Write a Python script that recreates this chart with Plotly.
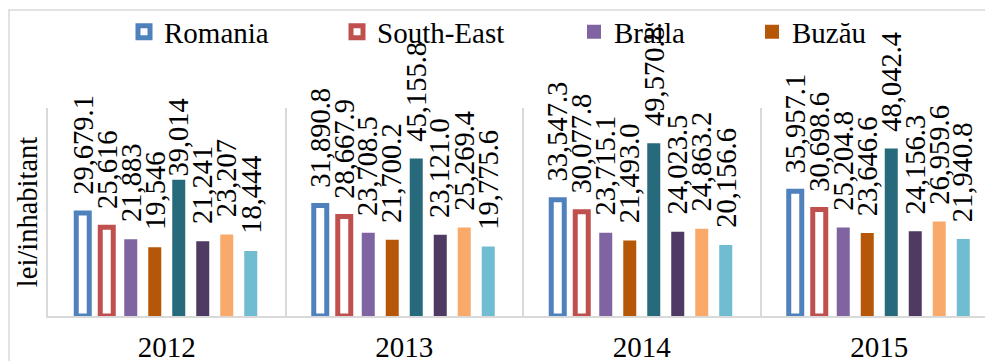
import plotly.graph_objects as go

# Revenue per inhabitant (lei/inhabitant), South-East development region
years = ["2012", "2013", "2014", "2015"]

romania = [29679.1, 31890.8, 33547.3, 35957.1]
south_east = [25616, 28667.9, 30077.8, 30698.6]
braila = [21883, 23708.5, 23715.1, 25204.8]
buzau = [19546, 21700.2, 21493.0, 23646.6]
constanta = [39014, 45155.8, 49570.8, 48042.4]
galati = [21241, 23121.0, 24023.5, 24156.3]
tulcea = [23207, 25269.4, 24863.2, 26959.6]
vrancea = [18444, 19775.6, 20156.6, 21940.8]

# decimals printed in the value labels, per year
romania_decimals = [1, 1, 1, 1]
county_decimals = [0, 1, 1, 1]

FONT = "Liberation Serif"
FS = 28.5
W, H = 985, 361
M_L, M_T, M_B = 48, 108, 45
PLOT_W = W - M_L
CAT_PX = 237.5                       # pixels per year group
X_MAX = -0.5 + PLOT_W / CAT_PX
SLOT = 24 / CAT_PX                   # distance between bars inside a group

series = [
    # name, values, decimals, colour, outlined, legend id
    ("Romania", romania, romania_decimals, "#4F81BD", True, "legend"),
    ("South-East", south_east, county_decimals, "#C0504D", True, "legend2"),
    ("Brăila", braila, county_decimals, "#8064A2", False, "legend3"),
    ("Buzău", buzau, county_decimals, "#B65708", False, "legend4"),
    ("Constanța", constanta, county_decimals, "#276A7C", False, None),
    ("Galați", galati, county_decimals, "#4E3A62", False, None),
    ("Tulcea", tulcea, county_decimals, "#F9AA6B", False, None),
    ("Vrancea", vrancea, county_decimals, "#70BDD1", False, None),
]

# gap (px) between a bar top and the start of its rotated label
LABEL_GAP = 16
label_gap_override = {("Constanța", "2012"): 2}

fig = go.Figure()
annotations = []
n = len(series)
for k, (name, vals, decs, color, outlined, leg) in enumerate(series):
    center = (k - (n - 1) / 2) * SLOT
    if outlined:
        width = 13 / CAT_PX
        marker = dict(color="white", line=dict(color=color, width=5))
    else:
        width = 11 / CAT_PX
        marker = dict(color=color, line=dict(color=color, width=2))
    fig.add_trace(go.Bar(
        x=years, y=vals, name=name, marker=marker,
        width=width, offset=center - width / 2,
        showlegend=leg is not None,
        legend=leg if leg else "legend",
        hoverinfo="skip",
    ))
    for i, (yr, v, d) in enumerate(zip(years, vals, decs)):
        gap = label_gap_override.get((name, yr), LABEL_GAP)
        annotations.append(dict(
            x=i + center, y=v, xref="x", yref="y",
            text=f"{v:,.{d}f}", textangle=-90,
            xanchor="center", yanchor="bottom", yshift=gap,
            showarrow=False, font=dict(family=FONT, size=FS, color="black"),
        ))

def px_to_paper_x(px):
    return (px - M_L) / PLOT_W

def px_to_paper_y(py):
    return (H - M_B - py) / (H - M_T - M_B)

legend_common = dict(
    orientation="h", xanchor="left", yanchor="middle",
    y=px_to_paper_y(32), bgcolor="rgba(0,0,0,0)",
    font=dict(family=FONT, size=29, color="black"),
    itemwidth=30, borderwidth=0,
)
legend_x = {"legend": 124, "legend2": 337, "legend3": 574, "legend4": 752}

layout_legends = {k: dict(legend_common, x=px_to_paper_x(v)) for k, v in legend_x.items()}

fig.update_layout(
    width=W, height=H,
    margin=dict(l=M_L, r=0, t=M_T, b=M_B, autoexpand=False),
    paper_bgcolor="white", plot_bgcolor="white",
    barmode="overlay",
    font=dict(family=FONT, size=FS, color="black"),
    annotations=annotations,
    shapes=[dict(
        type="rect", xref="paper", yref="paper",
        x0=px_to_paper_x(9), x1=1.1, y0=-0.5, y1=px_to_paper_y(10),
        line=dict(color="#D9D9D9", width=1.5), fillcolor="rgba(0,0,0,0)",
        layer="below",
    )],
    xaxis=dict(
        type="category", range=[-0.5, X_MAX],
        tickson="boundaries", showgrid=True, gridcolor="#D9D9D9", gridwidth=1.5,
        showline=True, linecolor="#D9D9D9", linewidth=2,
        ticks="", ticklabelstandoff=4,
        tickfont=dict(family=FONT, size=29, color="black"),
        zeroline=False, fixedrange=True,
    ),
    yaxis=dict(
        range=[0, 60000], showticklabels=False, showgrid=False, zeroline=False,
        showline=True, linecolor="#D9D9D9", linewidth=1.5, ticks="",
        title=dict(text="lei/inhabitant", standoff=0,
                   font=dict(family=FONT, size=FS, color="black")),
        fixedrange=True,
    ),
    **layout_legends,
)

fig.write_html("out.html")
